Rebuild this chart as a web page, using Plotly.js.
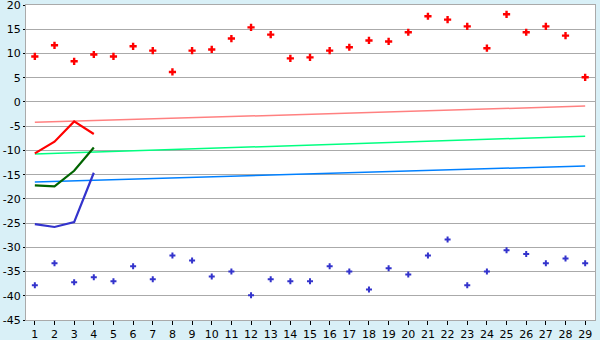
<!DOCTYPE html>
<html><head><meta charset="utf-8">
<script src="https://cdn.plot.ly/plotly-3.0.1.min.js"></script>
<style>html,body{margin:0;padding:0;background:#d9f0f7;}#chart{width:600px;height:340px;}</style>
</head><body><div id="chart"></div>
<script>
const days = [1,2,3,4,5,6,7,8,9,10,11,12,13,14,15,16,17,18,19,20,21,22,23,24,25,26,27,28,29];
const highPoints = [9.4,11.7,8.4,9.8,9.4,11.5,10.6,6.2,10.6,10.85,13.1,15.4,13.9,9.0,9.2,10.6,11.3,12.7,12.5,14.4,17.7,17.0,15.6,11.1,18.1,14.4,15.6,13.7,5.1];
const lowPoints = [-37.85,-33.3,-37.2,-36.2,-37.0,-33.9,-36.6,-31.7,-32.7,-36.0,-35.0,-39.9,-36.6,-37.0,-37.0,-33.9,-35.0,-38.7,-34.3,-35.6,-31.7,-28.4,-37.85,-35.0,-30.6,-31.4,-33.3,-32.3,-33.3];
const lineDays = [1,2,3,4];
const redLine = [-10.6,-8.2,-4.0,-6.6];
const greenLine = [-17.2,-17.4,-14.2,-9.4];
const blueLine = [-25.2,-25.8,-24.8,-14.6];
const trendDays = [1,29];
const pinkTrend = [-4.2,-0.85];
const lightGreenTrend = [-10.75,-7.05];
const lightBlueTrend = [-16.5,-13.2];
const yTicks = [-45,-40,-35,-30,-25,-20,-15,-10,-5,0,5,10,15,20];
const yTickLabels = ['-45','-40','-35','-30','-25','-20','-15','-10','-5','0','5','10','15','20'];

const traces = [
  {x: trendDays, y: pinkTrend, mode:'lines', line:{color:'#ff8080', width:1.5}},
  {x: trendDays, y: lightGreenTrend, mode:'lines', line:{color:'#00ff80', width:1.5}},
  {x: trendDays, y: lightBlueTrend, mode:'lines', line:{color:'#0080ff', width:1.5}},
  {x: lineDays, y: redLine, mode:'lines', line:{color:'#ff0000', width:2.2}},
  {x: lineDays, y: greenLine, mode:'lines', line:{color:'#006400', width:2.2}},
  {x: lineDays, y: blueLine, mode:'lines', line:{color:'#3333cc', width:2.2}},
  {x: days, y: highPoints, mode:'markers', marker:{symbol:'cross', size:6, color:'#ff0000', line:{width:0}}},
  {x: days, y: lowPoints, mode:'markers', marker:{symbol:'cross', size:5, color:'#3333cc', line:{width:0}}}
];

const layout = {
  width:600, height:340,
  margin:{l:26, r:5, t:5, b:20},
  paper_bgcolor:'#d9f0f7', plot_bgcolor:'#ffffff',
  showlegend:false,
  font:{family:'DejaVu Sans, sans-serif', size:11, color:'#000'},
  xaxis:{range:[0.55,29.5], tickvals:days, ticktext:days.map(String), showgrid:false, zeroline:false,
         showline:true, linecolor:'#aaaaaa', linewidth:1, mirror:true,
         ticks:'outside', ticklen:4, tickcolor:'#000', tickfont:{size:11}, ticklabeloverflow:'allow'},
  yaxis:{range:[-45,20.02], tickvals:yTicks, ticktext:yTickLabels, showgrid:true, gridcolor:'#aaaaaa', gridwidth:1, zeroline:false,
         showline:true, linecolor:'#aaaaaa', linewidth:1, mirror:true, ticks:'outside', ticklen:2, tickcolor:'#000',
         tickfont:{size:11}, ticklabeloverflow:'allow'}
};
Plotly.newPlot('chart', traces, layout, {displayModeBar:false, staticPlot:true});
</script></body></html>
